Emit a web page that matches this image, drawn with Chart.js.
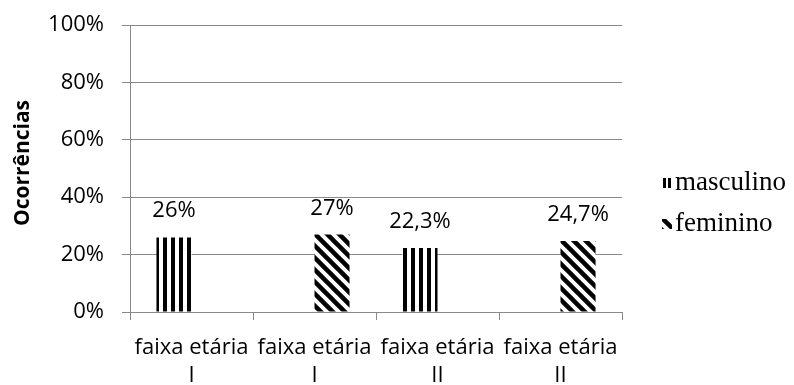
<!DOCTYPE html>
<html>
<head>
<meta charset="utf-8">
<script src="https://cdn.jsdelivr.net/npm/chart.js@4.4.0/dist/chart.umd.min.js"></script>
<style>
    html, body { margin: 0; padding: 0; background: #fff; }
    #wrap { width: 794px; height: 385px; }
</style>
</head>
<body>
<div id="wrap"><canvas id="myBarChart" width="794" height="385"></canvas></div>
<script>
// age groups on the x axis (two lines each)
const categories = [
    ['faixa etária', 'I'],
    ['faixa etária', 'I'],
    ['faixa etária', 'II'],
    ['faixa etária', 'II']
];
const seriesNames = ['masculino', 'feminino'];
const masculino = [26, null, 22.3, null];
const feminino = [null, 27, null, 24.7];
const yTicks = [0, 20, 40, 60, 80, 100];
const yTitle = 'Ocorrências';

const gridGray = '#898989';
const sansFont = '"Open Sans", Lato, sans-serif';

// tile: vertical black/white stripes
const vTile = (() => {
    const c = document.createElement('canvas');
    c.width = 8; c.height = 8;
    const g = c.getContext('2d');
    g.fillStyle = '#fff';
    g.fillRect(0, 0, 8, 8);
    g.fillStyle = '#000';
    g.fillRect(0, 0, 2, 8);
    g.fillRect(6, 0, 2, 8);
    return c;
})();

// tile: diagonal stripes going down to the right
const dTile = (() => {
    const s = 12;
    const c = document.createElement('canvas');
    c.width = s; c.height = s;
    const g = c.getContext('2d');
    g.fillStyle = '#fff';
    g.fillRect(0, 0, s, s);
    g.strokeStyle = '#000';
    g.lineWidth = 4.5;
    for (let k = -1; k <= 1; k++) {
        g.beginPath();
        g.moveTo(k * s - 2, -2);
        g.lineTo(k * s + s + 2, s + 2);
        g.stroke();
    }
    return c;
})();

const baseCtx = document.createElement('canvas').getContext('2d');
const mascFill = baseCtx.createPattern(vTile, 'repeat');
const femFill = baseCtx.createPattern(dTile, 'repeat');
const tiles = [vTile, dTile];

// start every bar's pattern at the bar's own left edge
const anchorPatterns = {
    id: 'anchorPatterns',
    beforeDatasetsDraw(chart) {
        const ctx = chart.ctx;
        chart.data.datasets.forEach((ds, i) => {
            chart.getDatasetMeta(i).data.forEach(bar => {
                const left = Math.round(bar.x - bar.width / 2);
                const pat = ctx.createPattern(tiles[i], 'repeat');
                pat.setTransform(new DOMMatrix([1, 0, 0, 1, left, 0]));
                bar.options.backgroundColor = pat;
            });
        });
    }
};

const fmtPct = v => String(v).replace('.', ',') + '%';

// value labels above each bar
const valueLabels = {
    id: 'valueLabels',
    afterDatasetsDraw(chart) {
        const ctx = chart.ctx;
        ctx.save();
        ctx.font = '22px ' + sansFont;
        ctx.fillStyle = '#000';
        ctx.textAlign = 'center';
        ctx.textBaseline = 'alphabetic';
        chart.data.datasets.forEach((ds, i) => {
            chart.getDatasetMeta(i).data.forEach((bar, j) => {
                const v = ds.data[j];
                if (v === null || v === undefined) return;
                ctx.fillText(fmtPct(v), bar.x, bar.y - 20);
            });
        });
        ctx.restore();
    }
};

// rotated y axis title, plus the legend on the right
const sideTexts = {
    id: 'sideTexts',
    afterDraw(chart) {
        const ctx = chart.ctx;
        ctx.save();
        ctx.translate(23, 163);
        ctx.rotate(-Math.PI / 2);
        ctx.font = 'bold 21px ' + sansFont;
        ctx.fillStyle = '#000';
        ctx.textAlign = 'center';
        ctx.textBaseline = 'middle';
        ctx.fillText(yTitle, 0, 0);
        ctx.restore();

        const rows = [183, 224];
        ctx.save();
        ctx.fillStyle = '#000';
        // masculino swatch: two vertical bars
        ctx.fillRect(663, rows[0] - 5, 3, 10);
        ctx.fillRect(668, rows[0] - 5, 3, 10);
        // feminino swatch: a patch of the diagonal stripes
        ctx.fillStyle = femFill;
        ctx.fillRect(662, rows[1] - 5, 10, 10);

        ctx.font = '27px "Liberation Serif", "Times New Roman", serif';
        ctx.fillStyle = '#000';
        ctx.textBaseline = 'middle';
        seriesNames.forEach((name, i) => ctx.fillText(name, 675, rows[i]));
        ctx.restore();
    }
};

const renderChart = () => {
    const ctx = document.getElementById('myBarChart').getContext('2d');
    new Chart(ctx, {
        type: 'bar',
        data: {
            labels: categories,
            datasets: [
                {
                    label: seriesNames[0],
                    data: masculino,
                    backgroundColor: mascFill,
                    categoryPercentage: 0.57,
                    barPercentage: 1.0
                },
                {
                    label: seriesNames[1],
                    data: feminino,
                    backgroundColor: femFill,
                    categoryPercentage: 0.57,
                    barPercentage: 1.0
                }
            ]
        },
        options: {
            responsive: false,
            animation: false,
            layout: {
                padding: { top: 25, right: 172, left: 0, bottom: 0 }
            },
            plugins: {
                legend: { display: false },
                tooltip: { enabled: false }
            },
            scales: {
                x: {
                    ticks: {
                        autoSkip: false,
                        maxRotation: 0,
                        padding: 13,
                        color: '#000',
                        font: { family: sansFont, size: 22, lineHeight: 1.3 }
                    },
                    grid: {
                        drawOnChartArea: false,
                        offset: true,
                        tickLength: 8,
                        color: gridGray
                    },
                    border: { color: gridGray },
                    afterFit: s => { s.height = 73; }
                },
                y: {
                    min: yTicks[0],
                    max: yTicks[yTicks.length - 1],
                    afterBuildTicks: s => { s.ticks = yTicks.map(v => ({ value: v })); },
                    ticks: {
                        padding: 18,
                        color: '#000',
                        font: { family: sansFont, size: 22 },
                        callback: v => v + '%'
                    },
                    grid: { color: gridGray, tickLength: 8 },
                    border: { color: gridGray },
                    afterFit: s => {
                        s.width = 130;
                        s.paddingTop = 0;
                        s.paddingBottom = 0;
                    }
                }
            }
        },
        plugins: [anchorPatterns, valueLabels, sideTexts]
    });
};

document.addEventListener('DOMContentLoaded', renderChart);
</script>
</body>
</html>
